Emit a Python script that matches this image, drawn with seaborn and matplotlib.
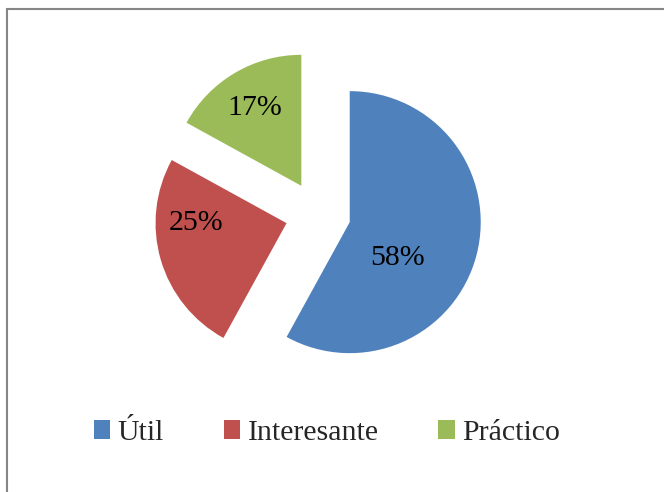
import numpy as np
import matplotlib
matplotlib.use("Agg")
import matplotlib.pyplot as plt
import seaborn as sns
from matplotlib.patches import Rectangle

# Datos del gráfico
categorias = ["Útil", "Interesante", "Práctico"]
porcentajes = [58, 25, 17]
colores = ["#4F81BD", "#C0504D", "#9BBB59"]

sns.set_theme(style="white")
plt.rcParams["font.family"] = ["Liberation Serif", "DejaVu Serif"]

fig = plt.figure(figsize=(6.64, 4.92), dpi=100)

# Marco gris del gráfico (cortado a la derecha y abajo)
fig.patches.append(Rectangle((7.0 / 664, -0.1), 1.2, 1.1 - 8.5 / 492,
                             transform=fig.transFigure, fill=False,
                             edgecolor="#868686", linewidth=1.5))

# Ejes cuadrados: radio del pastel = 131 px, centro en (318, 214)
r_px = 131
lim = 1.6
size = 2 * lim * r_px
cx, cy = 318, 214
ax = fig.add_axes([(cx - size / 2) / 664, (492 - cy - size / 2) / 492,
                   size / 664, size / 492])

wedges, texts, autotexts = ax.pie(
    porcentajes, colors=colores, startangle=90, counterclock=False,
    explode=[0.25] * 3, autopct="%1.0f%%", pctdistance=0.69,
    textprops={"fontsize": 21.5, "color": "black"},
    wedgeprops={"linewidth": 0})

# Etiquetas colocadas como en Excel (ángulo y distancia desde el vértice)
pos_etiquetas = [(-37, 0.46), (180, 0.69), (121, 0.69)]
for w, t, (a, d) in zip(wedges, autotexts, pos_etiquetas):
    ang = np.deg2rad(a)
    t.set_position((w.center[0] + d * np.cos(ang),
                    w.center[1] + d * np.sin(ang)))

ax.set_xlim(-lim, lim)
ax.set_ylim(-lim, lim)
ax.set_aspect("equal")
ax.axis("off")

fig.legend(wedges, categorias, loc="center",
           bbox_to_anchor=(327 / 664, 1 - 433 / 492), ncol=3, frameon=False,
           fontsize=21.5, handlelength=0.55, handleheight=0.58,
           handletextpad=0.25, columnspacing=2.0)

fig.savefig("out.png", dpi=100)
